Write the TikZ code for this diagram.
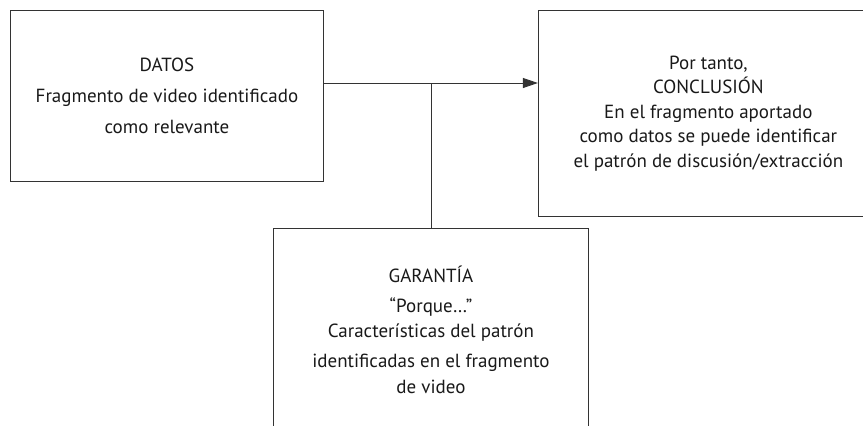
\documentclass[tikz,border=0pt]{standalone}
\usepackage{fontspec}
\setmainfont{PT Sans}
\usetikzlibrary{positioning,arrows.meta}

\tikzset{
	box/.style={draw=black!80, line width=0.9pt, align=center, inner sep=0pt, text=black!90, font=\fontsize{19}{24.5}\selectfont},
	link/.style={draw=black!80, line width=0.9pt}
}

\begin{document}
\begin{tikzpicture}[x=1pt,y=-1pt,>={Triangle[length=15pt,width=10pt]}]
	\useasboundingbox (0,0) rectangle (863,426);
	\clip (0,0) rectangle (863,426);

	\node[box,anchor=north west,minimum width=313pt,minimum height=171pt] (datos) at (10,10)
		{DATOS\\[6.5pt]Fragmento de video identificado\\[6.5pt]como relevante};
	\node[box,minimum width=340pt,minimum height=206pt] [right=214pt of datos.north east,anchor=north west] (conclusion)
		{Por tanto,\\CONCLUSIÓN\\En el fragmento aportado\\como datos se puede identificar\\el patrón de discusión/extracción};
	\node[box,minimum width=315pt,minimum height=203pt] [below right=46pt and 263pt of datos.south west,anchor=north west] (garantia)
		{GARANTÍA\\[5.5pt]“Porque…”\\Características del patrón\\[5.5pt]identificadas en el fragmento\\[1.5pt]de video};

	\coordinate (split) at (431,83);

	\draw[link,->] (datos.east |- split) -- (conclusion.west |- split);
	\draw[link] (split) -- (split |- garantia.north);
\end{tikzpicture}
\end{document}
